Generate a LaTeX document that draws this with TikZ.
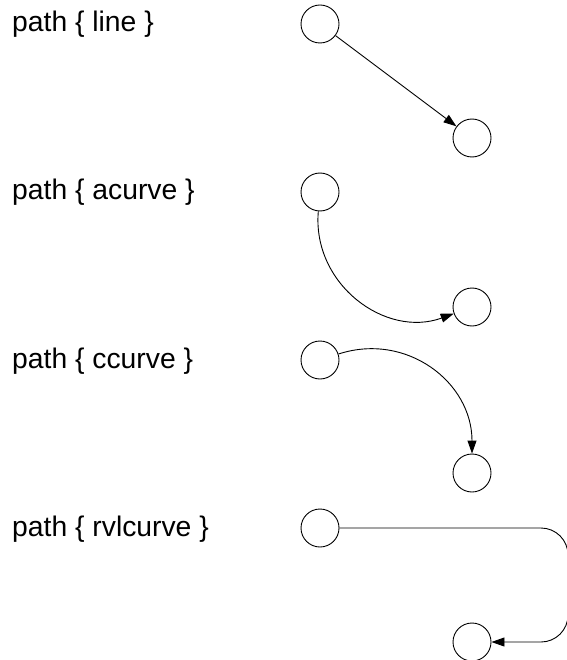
\documentclass[tikz,border=0pt]{standalone}
\usepackage{fontspec}
\setmainfont{Liberation Sans}
\usepackage{tikz}
\usetikzlibrary{arrows.meta}

\begin{document}
\begin{tikzpicture}[x=1pt, y=-1pt, lbl/.style={anchor=base west, inner sep=0pt, font=\fontsize{28.3}{33}\selectfont}, ball/.style={draw, circle, minimum size=38pt, inner sep=0pt, line width=0.9pt}, arr/.style={-{Triangle[length=13pt,width=9pt]}, line width=0.9pt}]
\useasboundingbox (0,0) rectangle (566,660);
% row 1: line
\node[lbl] (t1) at (12,32) {path \{ line \}};
\node[ball] (a1) at (320,24) {};
\node[ball] (b1) at (472,138) {};
\draw[arr] (a1) -- (b1);
% row 2: acurve
\node[lbl] (t2) at (12,200) {path \{ acurve \}};
\node[ball] (a2) at (320,192) {};
\node[ball] (b2) at (472,307) {};
\draw[arr] (a2) to[out=-95, in=200, looseness=1.1] (b2);
% row 3: ccurve
\node[lbl] (t3) at (12,368) {path \{ ccurve \}};
\node[ball] (a3) at (320,360) {};
\node[ball] (b3) at (472,473) {};
\draw[arr] (a3) to[out=18, in=90, looseness=1.1] (b3);
% row 4: rvlcurve
\node[lbl] (t4) at (12,536) {path \{ rvlcurve \}};
\node[ball] (a4) at (320,528) {};
\node[ball] (b4) at (472,642) {};
\coordinate (c4) at (568,642);
\draw[arr, rounded corners=27pt] (a4.east) -| (c4) -- (b4.east);
\end{tikzpicture}
\end{document}
